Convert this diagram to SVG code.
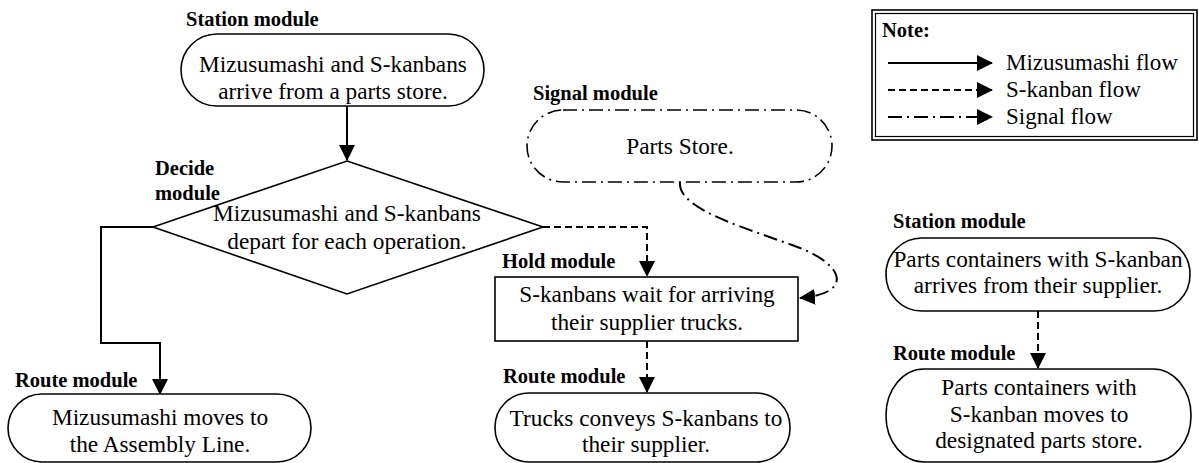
<svg xmlns="http://www.w3.org/2000/svg" width="1199" height="463" viewBox="0 0 1199 463">
<style>
text{font-family:"Liberation Serif","Times New Roman",serif;fill:#000}
.t{font-size:23.3px;text-anchor:middle}
.lbl{font-size:20.5px;font-weight:bold}
.lg{font-size:23px}
.node{fill:#fff;stroke:#000;stroke-width:1.6}
.sig{fill:#fff;stroke:#000;stroke-width:1.6;stroke-dasharray:14 5 2 5}
.c{fill:none;stroke:#000;stroke-width:2}
.solid{marker-end:url(#ah)}
.dash{stroke-dasharray:7 4;marker-end:url(#ah)}
.dd{stroke-dasharray:14 5 2 5;marker-end:url(#ah)}
</style>
<defs>
<marker id="ah" markerUnits="userSpaceOnUse" markerWidth="16" markerHeight="16" refX="15" refY="8" orient="auto">
<path d="M0,0 L16,8 L0,16 z" fill="#000"/>
</marker>
</defs>
<rect width="1199" height="463" fill="#fff"/>

<g id="connectors">
<path class="c solid" d="M347,106 L347,160"/>
<path class="c solid" d="M153,227 L101,227 L101,343 L160,343 L160,394"/>
<path class="c dash" d="M543,227 L647,227 L647,276"/>
<path class="c dash" d="M647,341 L647,392"/>
<path class="c dd" d="M680,182 C677,210 750,229 800,248 C846,266 852,294 800,298"/>
<path class="c dash" d="M1038,311 L1038,368"/>
</g>

<g id="station1">
<text class="lbl" x="186" y="26">Station module</text>
<rect class="node" x="181" y="34" width="303" height="72" rx="36"/>
<text class="t" x="333" y="72">Mizusumashi and S-kanbans</text>
<text class="t" x="333" y="99">arrive from a parts store.</text>
</g>

<g id="decide">
<text class="lbl" x="155" y="175">Decide</text>
<polygon class="node" points="347,161 543,227 347,294 153,227"/>
<text class="lbl" x="155" y="200">module</text>
<text class="t" x="347" y="221">Mizusumashi and S-kanbans</text>
<text class="t" x="347" y="249">depart for each operation.</text>
</g>

<g id="route1">
<text class="lbl" x="15" y="387">Route module</text>
<rect class="node" x="8" y="394" width="303" height="68" rx="34"/>
<text class="t" x="160" y="425">Mizusumashi moves to</text>
<text class="t" x="160" y="452">the Assembly Line.</text>
</g>

<g id="signal">
<text class="lbl" x="533" y="100">Signal module</text>
<rect class="sig" x="527" y="110" width="305" height="72" rx="36"/>
<text class="t" x="680" y="154">Parts Store.</text>
</g>

<g id="hold">
<text class="lbl" x="502" y="268">Hold module</text>
<rect class="node" x="495" y="277" width="303" height="64"/>
<text class="t" x="647" y="302">S-kanbans wait for arriving</text>
<text class="t" x="647" y="330">their supplier trucks.</text>
</g>

<g id="route2">
<text class="lbl" x="503" y="383">Route module</text>
<rect class="node" x="495" y="393" width="295" height="69" rx="34"/>
<text class="t" x="646" y="426">Trucks conveys S-kanbans to</text>
<text class="t" x="646" y="452">their supplier.</text>
</g>

<g id="station2">
<text class="lbl" x="893" y="228">Station module</text>
<rect class="node" x="886" y="238" width="304" height="73" rx="36"/>
<text class="t" x="1038" y="267">Parts containers with S-kanban</text>
<text class="t" x="1038" y="293">arrives from their supplier.</text>
</g>

<g id="route3">
<text class="lbl" x="893" y="360">Route module</text>
<rect class="node" x="886" y="369" width="305" height="93" rx="38" ry="46"/>
<text class="t" x="1039" y="395">Parts containers with</text>
<text class="t" x="1039" y="422">S-kanban moves to</text>
<text class="t" x="1039" y="448">designated parts store.</text>
</g>

<g id="legend">
<rect x="872" y="10" width="325" height="130" fill="#fff" stroke="#000" stroke-width="1.6"/>
<rect x="875.5" y="13.5" width="318" height="123" fill="none" stroke="#000" stroke-width="1.2"/>
<text class="lbl" x="882" y="37">Note:</text>
<path class="c solid" d="M888,63 L992,63"/>
<text class="lg" x="1006" y="70">Mizusumashi flow</text>
<path class="c dash" d="M888,90 L992,90"/>
<text class="lg" x="1006" y="97">S-kanban flow</text>
<path class="c dd" d="M888,117 L992,117"/>
<text class="lg" x="1006" y="124">Signal flow</text>
</g>
</svg>
